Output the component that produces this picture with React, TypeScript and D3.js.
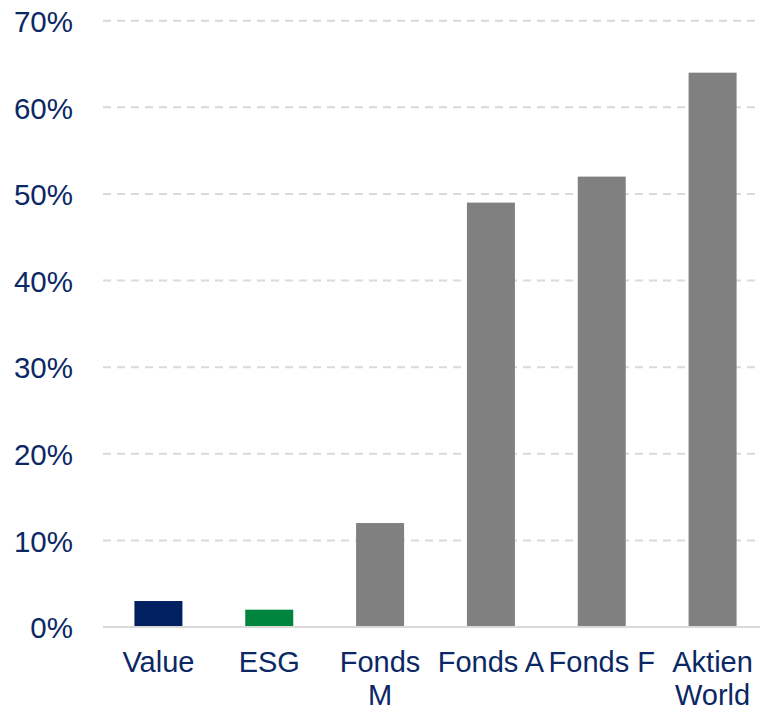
import React from 'react';
import { scaleBand, scaleLinear } from 'd3';

const categories = ['Value', 'ESG', 'Fonds M', 'Fonds A', 'Fonds F', 'Aktien World'];
const labelLines = [['Value'], ['ESG'], ['Fonds', 'M'], ['Fonds A'], ['Fonds F'], ['Aktien', 'World']];
const values = [0.03, 0.02, 0.12, 0.49, 0.52, 0.64];
const barColors = ['#002060', '#00853E', '#808080', '#808080', '#808080', '#808080'];
const yTicks = [0, 0.1, 0.2, 0.3, 0.4, 0.5, 0.6, 0.7];

const W = 760;
const H = 707;
const navy = '#0B2865';

const App = () => {
  const x = scaleBand<string>()
    .domain(categories)
    .range([103, 768])
    .paddingInner(0.567)
    .paddingOuter(0.2835);

  const y = scaleLinear().domain([0, 0.7]).range([627, 20.7]);

  return (
    <svg
      width={W}
      height={H}
      style={{ position: 'absolute', left: 0, top: 0 }}
      fontFamily="'Liberation Sans', Arial, sans-serif"
    >
      {/* gridlines */}
      {yTicks.filter(t => t > 0).map(t => (
        <line
          key={t}
          x1={103}
          x2={W}
          y1={y(t)}
          y2={y(t)}
          stroke="#D9D9D9"
          strokeWidth={2}
          strokeDasharray="8 6"
        />
      ))}

      {/* y tick labels */}
      {yTicks.map(t => (
        <text
          key={t}
          x={73}
          y={y(t)}
          dy="0.38em"
          textAnchor="end"
          fontSize={29.5}
          fill={navy}
        >
          {Math.round(t * 100) + '%'}
        </text>
      ))}

      {/* bars */}
      {categories.map((c, i) => (
        <rect
          key={c}
          x={x(c)}
          y={y(values[i])}
          width={x.bandwidth()}
          height={y(0) - y(values[i])}
          fill={barColors[i]}
        />
      ))}

      {/* baseline */}
      <line x1={103} x2={W} y1={y(0)} y2={y(0)} stroke="#D9D9D9" strokeWidth={2} />

      {/* category labels */}
      {categories.map((c, i) => (
        <text
          key={c}
          x={(x(c) ?? 0) + x.bandwidth() / 2}
          y={672}
          textAnchor="middle"
          fontSize={29}
          fill={navy}
        >
          {labelLines[i].map((l, j) => (
            <tspan key={j} x={(x(c) ?? 0) + x.bandwidth() / 2} dy={j === 0 ? 0 : 33}>
              {l}
            </tspan>
          ))}
        </text>
      ))}
    </svg>
  );
};

export default App;
